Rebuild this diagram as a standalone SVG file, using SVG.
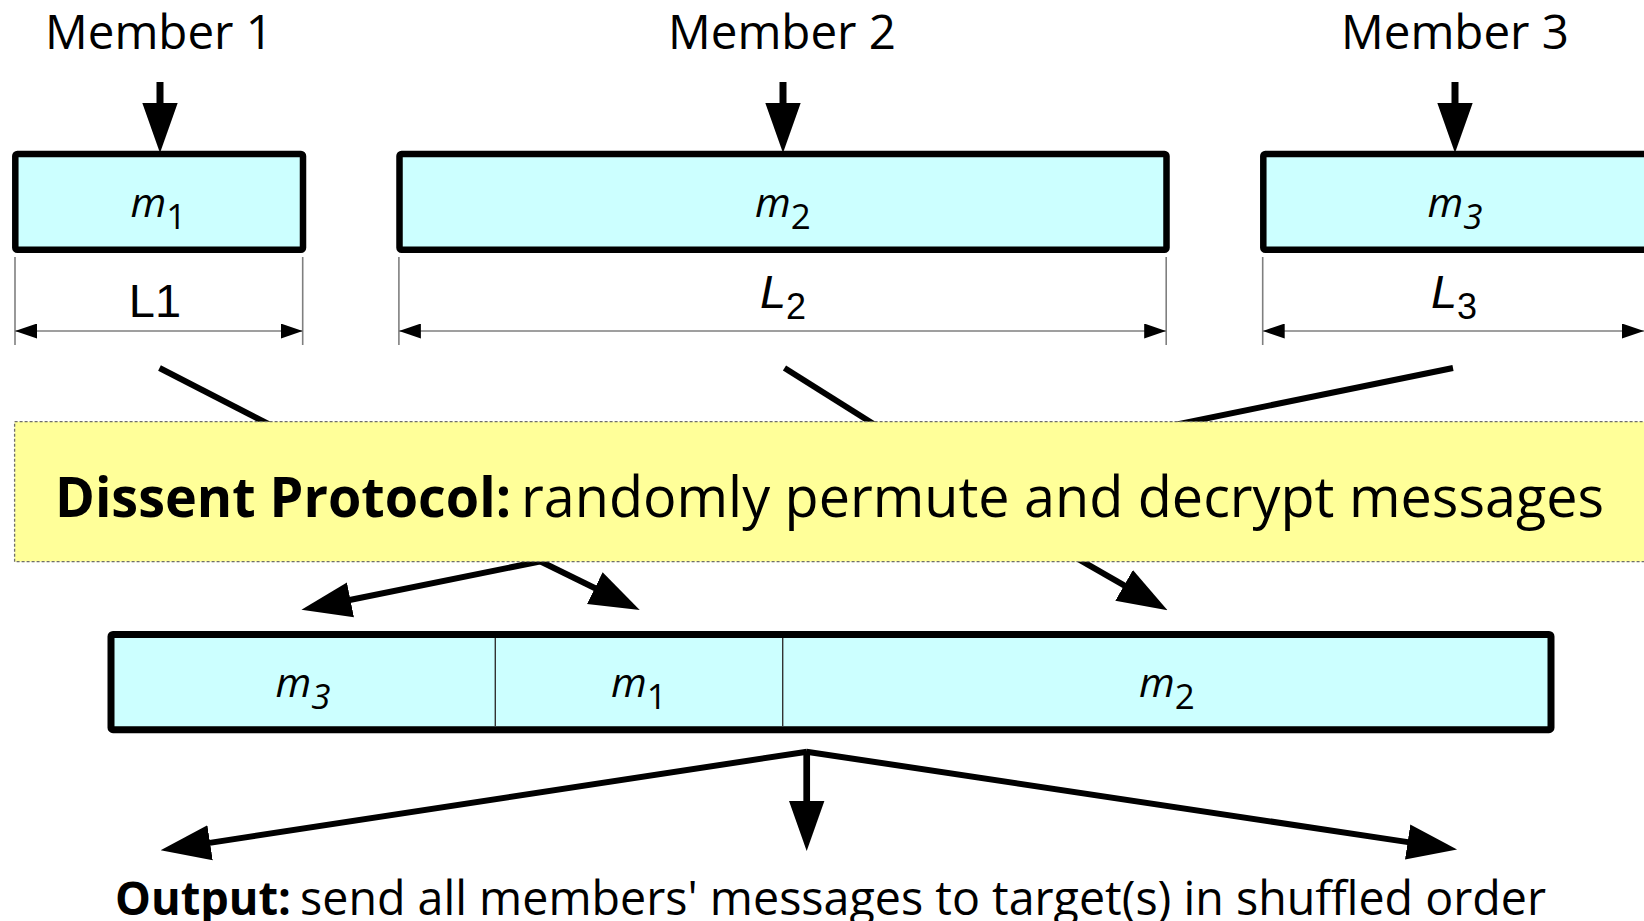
<svg xmlns="http://www.w3.org/2000/svg" width="1644" height="921" viewBox="0 0 1644 921">
  <style>
    .title { font-family: "Open Sans", "Noto Sans", sans-serif; font-size: 47.5px; fill: #000; }
    .msg { fill: #ccffff; stroke: #000; stroke-width: 6.5; }
    .mlabel { font-family: "Open Sans", "Noto Sans", sans-serif; font-size: 41px; font-style: italic; fill: #000; }
    .sub { font-size: 35px; }
    .up { font-style: normal; }
    .dim { stroke: #7f7f7f; stroke-width: 1.6; fill: none; }
    .dimlabel { font-family: "Liberation Sans", Arial, sans-serif; font-size: 47px; fill: #000; }
    .flow { stroke: #000; stroke-width: 6; fill: none; }
    .banner { fill: #ffff99; stroke: #6e6e6e; stroke-width: 1.3; stroke-dasharray: 3 2; }
    .bannertext { font-family: "Open Sans", "Noto Sans", sans-serif; font-size: 56px; fill: #000; }
    .outtext { font-family: "Open Sans", "Noto Sans", sans-serif; font-size: 47px; fill: #000; }
    .divider { stroke: #333; stroke-width: 1.4; }
  </style>
  <defs>
    <!-- solid head for the thick flow arrows -->
    <marker id="head" markerUnits="userSpaceOnUse" markerWidth="50" markerHeight="36" viewBox="0 0 48 34" refX="2" refY="17" orient="auto">
      <path d="M0,0 L48,17 L0,34 Z" fill="#000"/>
    </marker>
    <!-- small head for the dimension lines -->
    <marker id="dimhead" markerUnits="userSpaceOnUse" markerWidth="22" markerHeight="15" viewBox="0 0 22 15" refX="22" refY="7.5" orient="auto-start-reverse">
      <path d="M0,0 L22,7.5 L0,15 Z" fill="#000"/>
    </marker>
  </defs>

  <rect width="1644" height="921" fill="#fff"/>

  <!-- member names -->
  <g id="member1">
    <text class="title" x="159" y="49" text-anchor="middle">Member 1</text>
  </g>
  <g id="member2">
    <text class="title" x="782" y="49" text-anchor="middle">Member 2</text>
  </g>
  <g id="member3">
    <text class="title" x="1455" y="49" text-anchor="middle">Member 3</text>
  </g>

  <g id="connectors">
    <!-- members hand in their messages -->
    <line class="flow" style="stroke-width:7" x1="160" y1="82" x2="160" y2="105" marker-end="url(#head)"/>
    <line class="flow" style="stroke-width:7" x1="783" y1="82" x2="783" y2="105" marker-end="url(#head)"/>
    <line class="flow" style="stroke-width:7" x1="1455" y1="82" x2="1455" y2="105" marker-end="url(#head)"/>
    <!-- messages into the shuffle -->
    <line class="flow" x1="159.5" y1="368" x2="299.6" y2="440"/>
    <line class="flow" x1="784.5" y1="368" x2="899" y2="440"/>
    <line class="flow" x1="1453" y1="368" x2="1101" y2="440"/>
    <!-- shuffled slots -->
    <line class="flow" x1="548.5" y1="559.7" x2="348.4" y2="600.2" marker-end="url(#head)"/>
    <line class="flow" x1="532" y1="557.3" x2="596.7" y2="589" marker-end="url(#head)"/>
    <line class="flow" x1="1074" y1="556.7" x2="1125.9" y2="586.4" marker-end="url(#head)"/>
    <!-- output fan -->
    <line class="flow" x1="807" y1="751.7" x2="208" y2="843.1" marker-end="url(#head)"/>
    <line class="flow" x1="806.5" y1="751.7" x2="1409.7" y2="842.4" marker-end="url(#head)"/>
    <line class="flow" style="stroke-width:6.7" x1="806.7" y1="751.7" x2="806.7" y2="803" marker-end="url(#head)"/>
  </g>

  <!-- input messages -->
  <g id="msg1">
    <rect class="msg" x="15.3" y="154" width="287.7" height="95.7" rx="2"/>
    <text class="mlabel" x="158.5" y="217" text-anchor="middle">m<tspan class="sub up" dy="12">1</tspan></text>
  </g>
  <g id="msg2">
    <rect class="msg" x="399.5" y="154" width="767" height="95.7" rx="2"/>
    <text class="mlabel" x="783" y="217" text-anchor="middle">m<tspan class="sub up" dy="12">2</tspan></text>
  </g>
  <g id="msg3">
    <rect class="msg" x="1263.3" y="154" width="420" height="95.7" rx="2"/>
    <text class="mlabel" x="1455" y="217" text-anchor="middle">m<tspan class="sub" dy="12">3</tspan></text>
  </g>

  <!-- message lengths -->
  <g id="len1">
    <line class="dim" x1="15" y1="257" x2="15" y2="345"/>
    <line class="dim" x1="302.7" y1="257" x2="302.7" y2="345"/>
    <line class="dim" x1="15" y1="331" x2="302.7" y2="331" marker-start="url(#dimhead)" marker-end="url(#dimhead)"/>
    <text class="dimlabel" x="155" y="316.7" text-anchor="middle">L1</text>
  </g>
  <g id="len2">
    <line class="dim" x1="398.9" y1="257" x2="398.9" y2="345"/>
    <line class="dim" x1="1166.2" y1="257" x2="1166.2" y2="345"/>
    <line class="dim" x1="398.9" y1="331" x2="1166.2" y2="331" marker-start="url(#dimhead)" marker-end="url(#dimhead)"/>
    <text class="dimlabel" x="783" y="308" text-anchor="middle"><tspan font-style="italic">L</tspan><tspan font-size="36" dy="11">2</tspan></text>
  </g>
  <g id="len3">
    <line class="dim" x1="1262.7" y1="257" x2="1262.7" y2="345"/>
    <line class="dim" x1="1262.7" y1="331" x2="1644" y2="331" marker-start="url(#dimhead)" marker-end="url(#dimhead)"/>
    <text class="dimlabel" x="1454" y="308" text-anchor="middle"><tspan font-style="italic">L</tspan><tspan font-size="36" dy="11">3</tspan></text>
  </g>

  <!-- shuffle stage -->
  <g id="dissent">
    <rect class="banner" x="14.6" y="421.7" width="1700" height="140"/>
    <text class="bannertext" x="55" y="517.3" font-weight="bold" textLength="456" lengthAdjust="spacingAndGlyphs">Dissent Protocol:</text>
    <text class="bannertext" x="521" y="517.3" textLength="1083" lengthAdjust="spacingAndGlyphs">randomly permute and decrypt messages</text>
  </g>

  <!-- shuffled output buffer -->
  <g id="shuffled">
    <rect class="msg" style="stroke-width:7" x="111" y="634.5" width="1440" height="95.2" rx="2"/>
    <line class="divider" x1="495.3" y1="638" x2="495.3" y2="726"/>
    <line class="divider" x1="782.7" y1="638" x2="782.7" y2="726"/>
    <text class="mlabel" x="303" y="697" text-anchor="middle">m<tspan class="sub" dy="12">3</tspan></text>
    <text class="mlabel" x="639" y="697" text-anchor="middle">m<tspan class="sub up" dy="12">1</tspan></text>
    <text class="mlabel" x="1167" y="697" text-anchor="middle">m<tspan class="sub up" dy="12">2</tspan></text>
  </g>

  <!-- delivery -->
  <g id="output">
    <text class="outtext" x="115" y="915" font-weight="bold" textLength="176" lengthAdjust="spacingAndGlyphs">Output:</text>
    <text class="outtext" x="300" y="915" textLength="1246" lengthAdjust="spacingAndGlyphs">send all members' messages to target(s) in shuffled order</text>
  </g>
</svg>
